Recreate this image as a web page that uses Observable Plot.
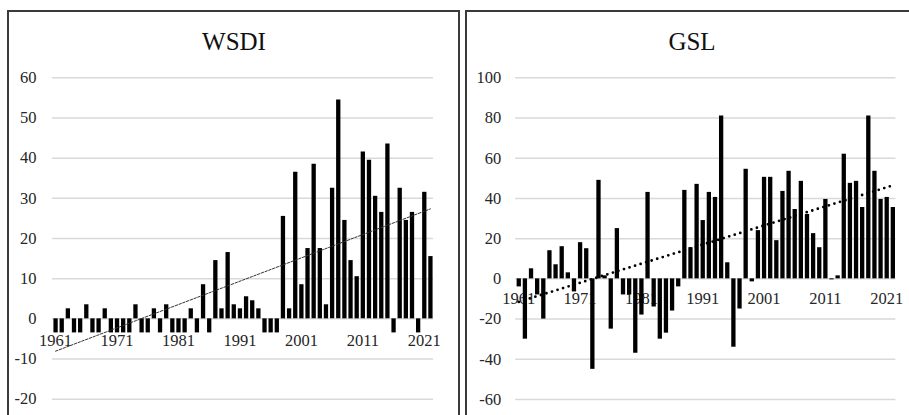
<!DOCTYPE html>
<html>
<head>
<meta charset="utf-8">
<script src="https://cdn.jsdelivr.net/npm/d3@7"></script>
<script src="https://cdn.jsdelivr.net/npm/@observablehq/plot@0.6"></script>
<style>
  body { margin: 0; background: #fff; }
  #wrap { position: relative; width: 909px; height: 415px; overflow: hidden;
          font-family: "Liberation Serif", "Times New Roman", serif; }
  .panel { position: absolute; top: 10px; height: 430px; border: 2px solid #3a3a3a; box-sizing: border-box; }
  .title { position: absolute; top: 29px; font-size: 25px; line-height: 25px; color: #111;
           transform: translateX(-50%); white-space: nowrap; }
  .chart { position: absolute; top: 0; }
</style>
</head>
<body>
<div id="wrap">
  <div class="panel" style="left:7px;width:453px"></div>
  <div class="panel" style="left:465px;width:460px"></div>
  <div class="title" style="left:234px">WSDI</div>
  <div class="title" style="left:692px">GSL</div>
  <div class="chart" id="wsdi" style="left:0"></div>
  <div class="chart" id="gsl" style="left:462px"></div>
</div>
<script>
// Years 1961–2022
const years = [1961,1962,1963,1964,1965,1966,1967,1968,1969,1970,
  1971,1972,1973,1974,1975,1976,1977,1978,1979,1980,
  1981,1982,1983,1984,1985,1986,1987,1988,1989,1990,
  1991,1992,1993,1994,1995,1996,1997,1998,1999,2000,
  2001,2002,2003,2004,2005,2006,2007,2008,2009,2010,
  2011,2012,2013,2014,2015,2016,2017,2018,2019,2020,
  2021,2022];

// Warm spell duration index anomalies (days)
const wsdiValues = [-3.5,-3.5,2.5,-3.5,-3.5,3.5,-3.5,-3.5,2.5,-3.5,
  -3.5,-3.5,-3.5,3.5,-3.5,-3.5,2.5,-3.5,3.5,-3.5,
  -3.5,-3.5,2.5,-3.5,8.5,-3.5,14.5,2.5,16.5,3.5,
  2.5,5.5,4.5,2.5,-3.5,-3.5,-3.5,25.5,2.5,36.5,
  8.5,17.5,38.5,17.5,3.5,32.5,54.5,24.5,14.5,10.5,
  41.5,39.5,30.5,26.5,43.5,-3.5,32.5,24.5,26.5,-3.5,
  31.5,15.5];

// Growing season length anomalies (days)
const gslValues = [-4,-30,5,-8,-20,14,7,16,3,-6.5,
  18,15,-45,49,1.5,-25,25,-8,-8,-37,
  -18,43,-14,-30,-27,-16,-4,44,15.5,47,
  29,43,40.5,81,8,-34,-15,54.5,-1.5,24,
  50.5,50.5,19,43.5,53.5,34.5,48.5,32,22.5,15.5,
  39.5,-0.5,1.5,62,47.5,48.5,35.5,81,53.5,39.5,
  40.5,35.5];

const xLabels = [1961, 1971, 1981, 1991, 2001, 2011, 2021];
const wsdiTicks = [-20, -10, 0, 10, 20, 30, 40, 50, 60];
const gslTicks = [-60, -40, -20, 0, 20, 40, 60, 80, 100];

const wsdiData = years.map((year, i) => ({year, value: wsdiValues[i]}));
const gslData = years.map((year, i) => ({year, value: gslValues[i]}));

const font = "'Liberation Serif', 'Times New Roman', serif";
const textColor = "#262626";

function panel({data, ticks, domain, width, marginLeft, marginRight, marginBottom, labelDy, yLabelDx, trend}) {
  return Plot.plot({
    width,
    height: 415,
    marginLeft,
    marginRight,
    marginTop: 77.3,
    marginBottom,
    style: {fontFamily: font, fontSize: "16px", background: "transparent", color: textColor, overflow: "visible"},
    x: {domain: [1960.5, 2022.5], axis: null},
    y: {domain, axis: null},
    marks: [
      Plot.ruleY(ticks, {stroke: "#d9d9d9", strokeWidth: 1.5}),
      Plot.text(ticks, {y: d => d, frameAnchor: "left", dx: yLabelDx, textAnchor: "end",
        text: d => String(d), fill: textColor, fontSize: 16.5}),
      Plot.text(xLabels, {x: d => d, y: 0, dy: labelDy, text: d => String(d),
        fill: textColor, fontSize: 16.5, lineAnchor: "middle"}),
      Plot.ruleX(data, {x: "year", y1: 0, y2: "value", stroke: "#000", strokeWidth: 4.3}),
      Plot.linearRegressionY(data, {x: "year", y: "value", ci: 0, ...trend})
    ]
  });
}

document.getElementById("wsdi").append(panel({
  data: wsdiData, ticks: wsdiTicks, domain: [-20, 60],
  width: 460, marginLeft: 52, marginRight: 27, marginBottom: 16.3,
  labelDy: 22, yLabelDx: -16,
  trend: {stroke: "#333", strokeWidth: 1, strokeDasharray: "2.5,1.5"}
}));

document.getElementById("gsl").append(panel({
  data: gslData, ticks: gslTicks, domain: [-60, 100],
  width: 447, marginLeft: 53.2, marginRight: 13.6, marginBottom: 16,
  labelDy: 20, yLabelDx: -14.5,
  trend: {stroke: "#000", strokeWidth: 2.8, strokeDasharray: "0,5.8", strokeLinecap: "round"}
}));
</script>
</body>
</html>
